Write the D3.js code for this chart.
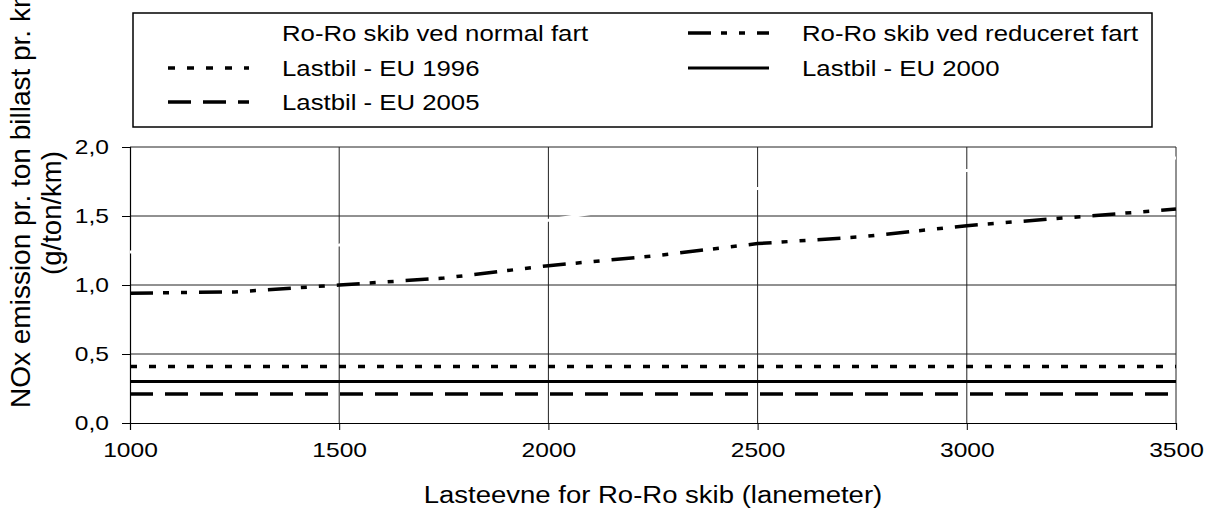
<!DOCTYPE html>
<html>
<head>
<meta charset="utf-8">
<script src="https://cdn.jsdelivr.net/npm/d3@7"></script>
<style>
  body { margin: 0; background: #fff; }
  text { font-family: "Liberation Sans", Arial, sans-serif; fill: #000; }
</style>
</head>
<body>
<div id="chart"></div>
<script>
// data
const capacity     = [1000, 1250, 1500, 1750, 2000, 2250, 2500, 2750, 3000, 3250, 3500];
const normalSpeed  = [1.24, 1.26, 1.29, 1.38, 1.47, 1.59, 1.70, 1.77, 1.83, 1.88, 1.92];
const reducedSpeed = [0.94, 0.95, 1.00, 1.05, 1.14, 1.21, 1.30, 1.35, 1.43, 1.49, 1.55];
const truck1996    = [0.41, 0.41, 0.41, 0.41, 0.41, 0.41, 0.41, 0.41, 0.41, 0.41, 0.41];
const truck2000    = [0.30, 0.30, 0.30, 0.30, 0.30, 0.30, 0.30, 0.30, 0.30, 0.30, 0.30];
const truck2005    = [0.21, 0.21, 0.21, 0.21, 0.21, 0.21, 0.21, 0.21, 0.21, 0.21, 0.21];
const xTicks = [1000, 1500, 2000, 2500, 3000, 3500];
const yTicks = [0, 0.5, 1.0, 1.5, 2.0];

const series = [
  {name: "Ro-Ro skib ved normal fart",    values: normalSpeed,  color: "#fff", width: 3,   dash: null},
  {name: "Ro-Ro skib ved reduceret fart", values: reducedSpeed, color: "#000", width: 3.5, dash: "23,10,6,12,6,12"},
  {name: "Lastbil - EU 1996",             values: truck1996,    color: "#000", width: 3.5, dash: "7,12"},
  {name: "Lastbil - EU 2000",             values: truck2000,    color: "#000", width: 3,   dash: null},
  {name: "Lastbil - EU 2005",             values: truck2005,    color: "#000", width: 3.5, dash: "23,12"}
];

const W = 1208, H = 520;
const margin = {top: 147, right: 32, bottom: 97, left: 130},
    width = W - margin.left - margin.right,
    height = H - margin.top - margin.bottom;
const stretch = 1.17;   // text in the picture is wider than plain Arial

const svg = d3.select("#chart")
  .append("svg")
    .attr("width", W)
    .attr("height", H);

const g = svg.append("g")
    .attr("transform", `translate(${margin.left},${margin.top})`);

const x = d3.scaleLinear().domain([1000, 3500]).range([0, width]);
const y = d3.scaleLinear().domain([0, 2]).range([height, 0]);

// grid
g.append("g")
  .selectAll("line.h")
  .data(yTicks.slice(1))
  .join("line")
    .attr("x1", 0).attr("x2", width)
    .attr("y1", d => y(d)).attr("y2", d => y(d))
    .attr("stroke", "#222").attr("stroke-width", 1);
g.append("g")
  .selectAll("line.v")
  .data(xTicks.slice(1))
  .join("line")
    .attr("x1", d => x(d)).attr("x2", d => x(d))
    .attr("y1", 0).attr("y2", height)
    .attr("stroke", "#222").attr("stroke-width", 1);

// axes
const yAxis = g.append("g")
    .call(d3.axisLeft(y).tickValues(yTicks).tickSize(8).tickPadding(13)
      .tickFormat(d => d3.format(".1f")(d).replace(".", ",")));
const xAxis = g.append("g")
    .attr("transform", `translate(0,${height})`)
    .call(d3.axisBottom(x).tickValues(xTicks).tickSize(7).tickPadding(12).tickFormat(d3.format("d")));
[yAxis, xAxis].forEach(a => {
  a.select(".domain").attr("stroke", "#000").attr("stroke-width", 1.2);
  a.selectAll(".tick line").attr("stroke", "#000");
  a.selectAll("text").attr("font-size", 21).attr("fill", "#000")
    .attr("font-family", "Liberation Sans, Arial, sans-serif");
});

// lines
const line = d3.line()
    .x((d, i) => x(capacity[i]))
    .y(d => y(d));

g.append("g")
  .selectAll("path")
  .data(series)
  .join("path")
    .attr("d", d => line(d.values))
    .attr("fill", "none")
    .attr("stroke", d => d.color)
    .attr("stroke-width", d => d.width)
    .attr("stroke-dasharray", d => d.dash);

// axis titles
svg.append("text")
    .attr("x", 653).attr("y", 503)
    .attr("text-anchor", "middle")
    .attr("font-size", 23.5)
    .attr("class", "wide")
    .text("Lasteevne for Ro-Ro skib (lanemeter)");

svg.append("text")
    .attr("transform", "translate(30,408) rotate(-90)")
    .attr("text-anchor", "start")
    .attr("font-size", 28)
    .text("NOx emission pr. ton billast pr. km");
svg.append("text")
    .attr("transform", "translate(61,213) rotate(-90)")
    .attr("text-anchor", "middle")
    .attr("font-size", 27.5)
    .text("(g/ton/km)");

// legend
const legend = svg.append("g");
legend.append("rect")
    .attr("x", 133).attr("y", 13)
    .attr("width", 1019).attr("height", 114)
    .attr("fill", "#fff").attr("stroke", "#000").attr("stroke-width", 1.5);

const legendPos = [
  {col: 0, row: 0}, {col: 1, row: 0}, {col: 0, row: 1}, {col: 1, row: 1}, {col: 0, row: 2}
];
const colX = [168, 688], rowY = [33, 68, 102];

const item = legend.selectAll("g.item")
  .data(series)
  .join("g")
    .attr("class", "item")
    .attr("transform", (d, i) => `translate(${colX[legendPos[i].col]},${rowY[legendPos[i].row]})`);
item.append("line")
    .attr("x1", 0).attr("x2", 81)
    .attr("stroke", d => d.color)
    .attr("stroke-width", d => d.width)
    .attr("stroke-dasharray", d => d.dash);
item.append("text")
    .attr("x", 114).attr("dy", "0.35em")
    .attr("font-size", 22)
    .attr("class", "wide")
    .text(d => d.name);

// widen horizontal text like the picture
svg.selectAll(".wide, .tick text").each(function() {
  const t = d3.select(this);
  t.attr("textLength", this.getComputedTextLength() * stretch)
   .attr("lengthAdjust", "spacingAndGlyphs");
});
</script>
</body>
</html>
